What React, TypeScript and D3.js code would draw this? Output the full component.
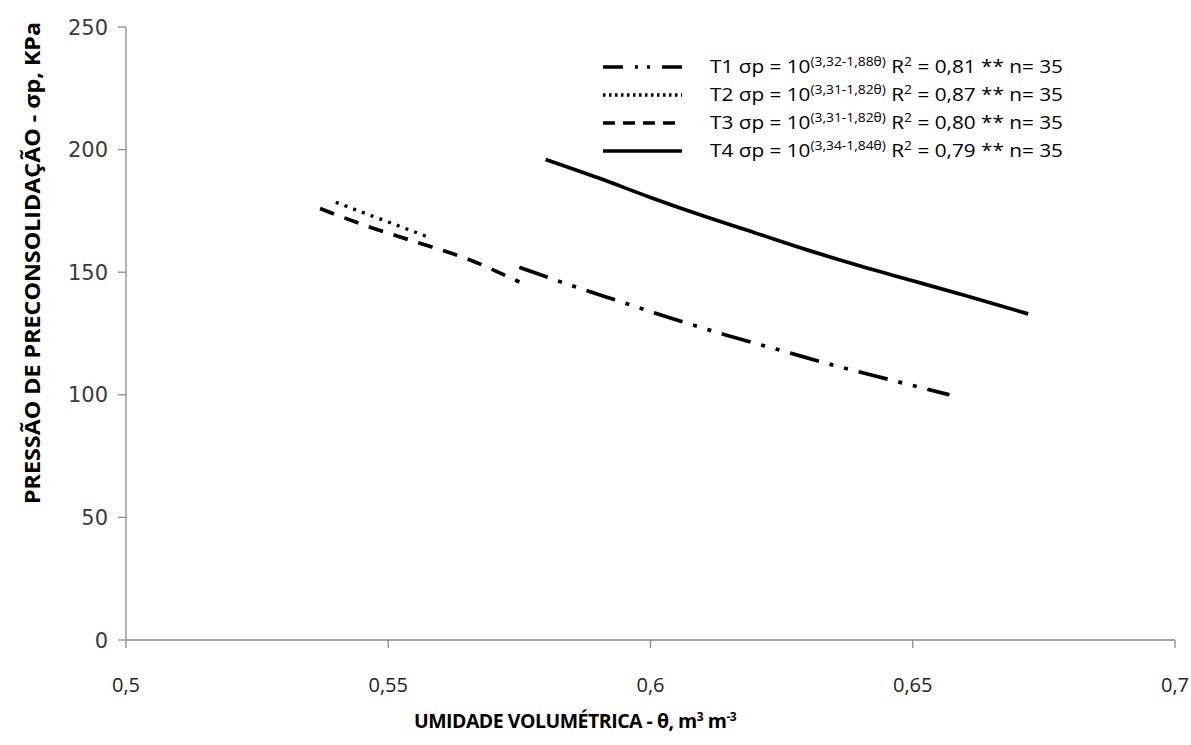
import React from "react";
import * as d3 from "d3";

// values (θ in m3/m3, σp in kPa)
const theta1 = [0.575, 0.585, 0.595, 0.605, 0.615, 0.625, 0.635, 0.645, 0.657];
const sigma1 = [152, 144.5, 137.5, 130.5, 124, 118, 112, 106.5, 100];

const theta2 = [0.54, 0.545, 0.55, 0.558];
const sigma2 = [178.5, 174.5, 170.5, 164];

const theta3 = [0.537, 0.545, 0.555, 0.565, 0.575];
const sigma3 = [176, 169.5, 162.5, 155.5, 146];

const theta4 = [0.58, 0.59, 0.6, 0.61, 0.62, 0.63, 0.64, 0.65, 0.66, 0.672];
const sigma4 = [196, 188.5, 180.5, 173, 166, 159, 152.5, 146.5, 140.5, 133];

const xTicks = [0.5, 0.55, 0.6, 0.65, 0.7];
const yTicks = [0, 50, 100, 150, 200, 250];

const seriesNames = ["T1", "T2", "T3", "T4"];
const exponents = ["3,32-1,88θ", "3,31-1,82θ", "3,31-1,82θ", "3,34-1,84θ"];
const r2Values = ["0,81", "0,87", "0,80", "0,79"];
const nValues = [35, 35, 35, 35];

const W = 1191;
const H = 745;

const x = d3.scaleLinear().domain([0.5, 0.7]).range([126, 1175]);
const y = d3.scaleLinear().domain([0, 250]).range([640, 27]);

const fmt = (v: number) => String(v).replace(".", ",");

const styles = [
  { dash: "30 11 4 11 4 11", width: 3.7, legendDash: "20 12 3 9 3 12" },
  { dash: "3 6.3", width: 3.3, legendDash: "2.5 3.5" },
  { dash: "15 11", width: 3.7, legendDash: "12 8" },
  { dash: "none", width: 3.7, legendDash: "none" },
];

const series = [
  { t: theta1, s: sigma1 },
  { t: theta2, s: sigma2 },
  { t: theta3, s: sigma3 },
  { t: theta4, s: sigma4 },
];

const line = d3
  .line<[number, number]>()
  .x((d) => x(d[0]))
  .y((d) => y(d[1]))
  .curve(d3.curveMonotoneX);

export default function App() {
  const legendY = [67, 95, 123, 151];
  const axisColor = "#8a8a8a";

  return (
    <svg
      width={W}
      height={H}
      style={{ position: "fixed", left: 0, top: 0, background: "#fff" }}
    >
      <rect width={W} height={H} fill="#fff" />

      {/* axes */}
      <line x1={x(0.5)} x2={x(0.5)} y1={y(250)} y2={y(0)} stroke={axisColor} strokeWidth={1.3} />
      <line x1={x(0.5)} x2={x(0.7)} y1={y(0)} y2={y(0)} stroke={axisColor} strokeWidth={1.3} />
      {yTicks.map((t) => (
        <g key={"y" + t}>
          <line x1={x(0.5) - 8} x2={x(0.5)} y1={y(t)} y2={y(t)} stroke={axisColor} strokeWidth={1.3} />
          <text
            x={108}
            y={y(t)}
            dy="0.36em"
            textAnchor="end"
            fontFamily="'DejaVu Sans', Verdana, sans-serif"
            fontSize={21}
            fill="#3a3a3a"
          >
            {t}
          </text>
        </g>
      ))}
      {xTicks.map((t) => (
        <g key={"x" + t}>
          <line x1={x(t)} x2={x(t)} y1={y(0)} y2={y(0) + 8} stroke={axisColor} strokeWidth={1.3} />
          <text
            x={x(t)}
            y={692}
            textAnchor="middle"
            fontFamily="'Open Sans', sans-serif"
            fontSize={20}
            fill="#222"
          >
            {fmt(t)}
          </text>
        </g>
      ))}

      {/* axis titles */}
      <text
        x={575}
        y={728}
        textAnchor="middle"
        fontFamily="'Open Sans', sans-serif"
        fontWeight="bold"
        fontSize={19.5}
        letterSpacing={-0.5}
        fill="#000"
      >
        UMIDADE VOLUMÉTRICA - θ, m<tspan dy={-7} fontSize={12}>3</tspan>
        <tspan dy={7}> m</tspan>
        <tspan dy={-7} fontSize={12}>-3</tspan>
      </text>
      <text
        transform={`translate(40,${504}) rotate(-90)`}
        x={0}
        y={0}
        textLength={482}
        lengthAdjust="spacingAndGlyphs"
        fontFamily="'Open Sans', sans-serif"
        fontWeight="bold"
        fontSize={21}
        fill="#000"
      >
        PRESSÃO DE PRECONSOLIDAÇÃO - σp, KPa
      </text>

      {/* curves */}
      {series.map((sr, i) => (
        <path
          key={"s" + i}
          d={line(sr.t.map((t, j) => [t, sr.s[j]] as [number, number])) || ""}
          fill="none"
          stroke="#000"
          strokeWidth={styles[i].width}
          strokeDasharray={styles[i].dash}
          strokeLinecap="butt"
          strokeLinejoin="round"
        />
      ))}

      {/* legend */}
      {seriesNames.map((name, i) => (
        <g key={"l" + i}>
          <line
            x1={603}
            x2={682}
            y1={legendY[i]}
            y2={legendY[i]}
            stroke="#000"
            strokeWidth={styles[i].width}
            strokeDasharray={styles[i].legendDash}
          />
          <text
            x={710}
            y={legendY[i] + 6}
            textLength={353}
            lengthAdjust="spacingAndGlyphs"
            fontFamily="'Open Sans', sans-serif"
            fontSize={18}
            fill="#000"
          >
            {name} σp = 10
            <tspan dy={-7} fontSize={12}>({exponents[i]})</tspan>
            <tspan dy={7}> R</tspan>
            <tspan dy={-7} fontSize={12}>2</tspan>
            <tspan dy={7}> = {r2Values[i]} ** n= {nValues[i]}</tspan>
          </text>
        </g>
      ))}
    </svg>
  );
}
